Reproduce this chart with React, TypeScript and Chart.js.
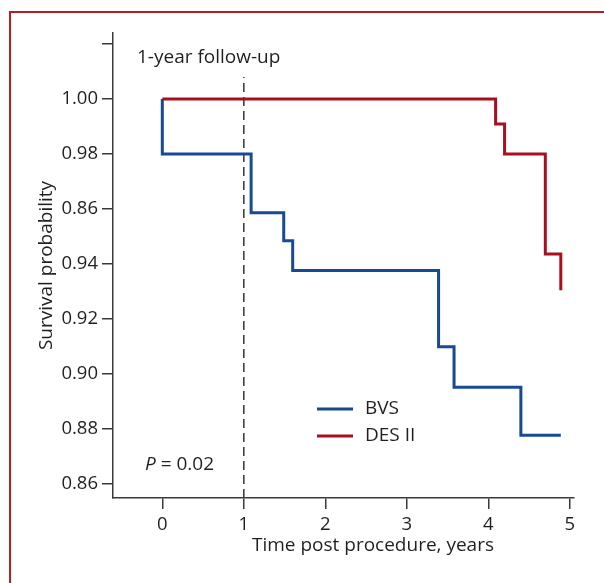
import React, { useEffect, useRef } from 'react';
import { Chart, registerables } from 'chart.js';

Chart.register(...registerables);

// ---- data ----
const bvsTimes = [0, 0, 1.09, 1.49, 1.6, 3.39, 3.58, 4.4, 4.89];
const bvsSurvival = [1.0, 0.98, 0.9586, 0.9484, 0.9376, 0.9098, 0.8951, 0.8776, 0.8776];
const desTimes = [0, 4.09, 4.2, 4.7, 4.89];
const desSurvival = [1.0, 0.9909, 0.98, 0.9436, 0.9304];
const seriesNames = ['BVS', 'DES II'];

const yTickValues = [0.86, 0.88, 0.9, 0.92, 0.94, 0.96, 0.98, 1.0, 1.02];
const yTickLabels = ['0.86', '0.88', '0.90', '0.92', '0.94', '0.86', '0.98', '1.00', ''];
const xTickValues = [0, 1, 2, 3, 4, 5];
const xTickLabels = ['0', '1', '2', '3', '4', '5'];

const followUpTime = 1;
const followUpTop = 1.008;
const followUpLabel = '1-year follow-up';
const pValueText = '0.02';

const xTitle = 'Time post procedure, years';
const yTitle = 'Survival probability';

const X_MIN = -0.605;
const X_MAX = 5.052;
const Y_MIN = 0.8548;
const Y_MAX = 1.024;

const FONT = '"Open Sans", sans-serif';
const FS = 19;
const TICK_FS = 18.5;
const BLUE = '#174a93';
const RED = '#a80f1f';
const AXIS = '#3a3a3a';
const TEXT = '#231f20';

const annotationPlugin = {
  id: 'annotations',
  afterDraw(chart: any) {
    const { ctx, chartArea } = chart;
    ctx.save();
    ctx.fillStyle = TEXT;
    ctx.textBaseline = 'middle';
    ctx.textAlign = 'left';
    ctx.font = `${FS}px ${FONT}`;
    ctx.fillText(followUpLabel, chartArea.left + 24, chartArea.top + 25);

    // x axis title (offset to the right as in the original)
    ctx.textAlign = 'center';
    ctx.fillText(xTitle, chartArea.left + 260, chartArea.bottom + 48);
    ctx.textAlign = 'left';

    // P value
    const px = chartArea.left + 32;
    const py = chartArea.bottom - 33;
    ctx.font = `italic ${FS}px ${FONT}`;
    ctx.fillText('P', px, py);
    const pw = ctx.measureText('P').width;
    ctx.font = `${FS}px ${FONT}`;
    ctx.fillText(' = ' + pValueText, px + pw, py);

    // legend
    const colors = [BLUE, RED];
    const ys = [chartArea.bottom - 89, chartArea.bottom - 62];
    seriesNames.forEach((name, i) => {
      ctx.strokeStyle = colors[i];
      ctx.lineWidth = 3;
      ctx.beginPath();
      ctx.moveTo(chartArea.left + 204, ys[i]);
      ctx.lineTo(chartArea.left + 240, ys[i]);
      ctx.stroke();
      ctx.fillStyle = TEXT;
      ctx.fillText(name, chartArea.left + 252, ys[i]);
    });
    ctx.restore();
  },
};

export default function App() {
  const ref = useRef<HTMLCanvasElement | null>(null);

  useEffect(() => {
    if (!ref.current) return;
    const tickFont = { family: FONT, size: TICK_FS };
    const titleFont = { family: FONT, size: FS };
    const chart = new Chart(ref.current, {
      type: 'line',
      data: {
        datasets: [
          {
            label: seriesNames[0],
            data: bvsTimes.map((t, i) => ({ x: t, y: bvsSurvival[i] })),
            borderColor: BLUE,
            borderWidth: 3,
            stepped: 'before',
            pointRadius: 0,
            fill: false,
            borderCapStyle: 'butt',
            borderJoinStyle: 'miter',
            order: 1,
          },
          {
            label: seriesNames[1],
            data: desTimes.map((t, i) => ({ x: t, y: desSurvival[i] })),
            borderColor: RED,
            borderWidth: 3,
            stepped: 'before',
            pointRadius: 0,
            fill: false,
            borderCapStyle: 'butt',
            borderJoinStyle: 'miter',
            order: 0,
          },
          {
            label: 'follow-up',
            data: [
              { x: followUpTime, y: Y_MIN },
              { x: followUpTime, y: followUpTop },
            ],
            borderColor: '#404040',
            borderWidth: 1.6,
            borderDash: [9, 5],
            pointRadius: 0,
            fill: false,
            order: 2,
          },
        ],
      },
      options: {
        animation: false,
        responsive: false,
        devicePixelRatio: 1,
        layout: { padding: { left: 0, right: 30, top: 33, bottom: 0 } },
        plugins: {
          legend: { display: false },
          tooltip: { enabled: false },
        },
        scales: {
          x: {
            type: 'linear',
            min: X_MIN,
            max: X_MAX,
            afterBuildTicks: (s: any) => {
              s.ticks = xTickValues.map((v) => ({ value: v }));
            },
            afterFit: (s: any) => {
              s.height = 85;
            },
            ticks: {
              callback: (_v: any, i: number) => xTickLabels[i],
              color: TEXT,
              font: tickFont,
              padding: 5,
              maxRotation: 0,
              autoSkip: false,
            },
            grid: { drawOnChartArea: false, drawTicks: true, tickLength: 11, color: AXIS, lineWidth: 1.5 },
            border: { display: true, color: AXIS, width: 1.5 },
            title: { display: false },
          },
          y: {
            type: 'linear',
            min: Y_MIN,
            max: Y_MAX,
            afterBuildTicks: (s: any) => {
              s.ticks = yTickValues.map((v) => ({ value: v }));
            },
            afterFit: (s: any) => {
              s.width = 113;
            },
            ticks: {
              callback: (_v: any, i: number) => yTickLabels[i],
              color: TEXT,
              font: tickFont,
              padding: 4,
              autoSkip: false,
            },
            grid: { drawOnChartArea: false, drawTicks: true, tickLength: 11, color: AXIS, lineWidth: 1.5 },
            border: { display: true, color: AXIS, width: 1.5 },
            title: { display: true, text: yTitle, color: TEXT, font: titleFont, padding: { top: 35, bottom: 0 } },
          },
        },
      },
      plugins: [annotationPlugin],
    } as any);
    return () => chart.destroy();
  }, []);

  return (
    <div
      style={{
        position: 'fixed',
        left: 0,
        top: 0,
        width: 604,
        height: 583,
        overflow: 'hidden',
        background: '#fff',
      }}
    >
      <div
        style={{
          position: 'absolute',
          left: 9,
          top: 11,
          width: 800,
          height: 800,
          border: '2px solid rgb(184, 28, 38)',
          boxSizing: 'border-box',
        }}
      />
      <canvas ref={ref} width={604} height={583} style={{ position: 'absolute', left: 0, top: 0 }} />
    </div>
  );
}
